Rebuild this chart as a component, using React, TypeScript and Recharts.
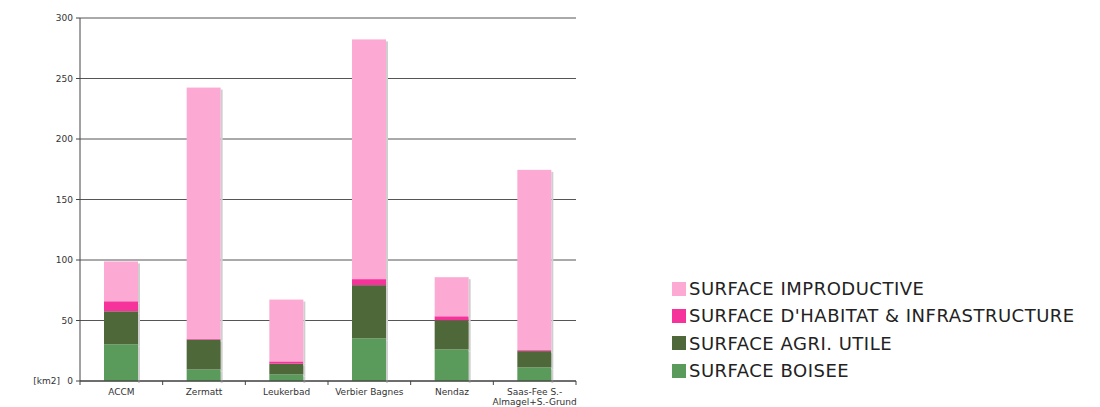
import React from "react";
import { BarChart, Bar, XAxis, YAxis, CartesianGrid, Legend } from "recharts";

const categories = ["ACCM", "Zermatt", "Leukerbad", "Verbier Bagnes", "Nendaz", "Saas-Fee S.-\nAlmagel+S.-Grund"];
const boisee = [30.3, 9.5, 5.4, 35.2, 26.1, 11.2];
const agri = [27.3, 24.7, 8.9, 44.0, 24.1, 13.5];
const habitat = [8.3, 0.8, 1.9, 5.0, 3.3, 0.8];
const improductive = [32.9, 207.5, 51.1, 198.1, 32.3, 149.0];
const yTicks = [0, 50, 100, 150, 200, 250, 300];

const series = [
  { key: "boisee", name: "SURFACE BOISEE", color: "#5A9A5A", values: boisee },
  { key: "agri", name: "SURFACE AGRI. UTILE", color: "#4F6839", values: agri },
  { key: "habitat", name: "SURFACE D'HABITAT & INFRASTRUCTURE", color: "#F6339A", values: habitat },
  { key: "improductive", name: "SURFACE IMPRODUCTIVE", color: "#FCAAD3", values: improductive },
];

const data = categories.map((c, i) => {
  const row: any = { name: c };
  series.forEach((s) => (row[s.key] = s.values[i]));
  return row;
});

const W = 1100;
const H = 407;
const PLOT_LEFT = 80;
const PLOT_RIGHT = 576;
const BAND = (PLOT_RIGHT - PLOT_LEFT) / categories.length;
const FONT = "'DejaVu Sans', sans-serif";

const ShadowBar = (props: any) => {
  const { x, y, width, height, fill } = props;
  if (!height || height <= 0) return null;
  return (
    <g>
      <rect x={x + width} y={y + 2} width={2} height={height} fill="#cfcfcf" />
      <rect x={x} y={y} width={width} height={height} fill={fill} />
    </g>
  );
};

const XTick = (props: any) => {
  const { x, y, payload, index } = props;
  const lines = String(payload.value).split("\n");
  return (
    <g>
      <line x1={x - BAND / 2} y1={y - 8} x2={x - BAND / 2} y2={y - 4} stroke="#444" />
      {index === categories.length - 1 && (
        <line x1={x + BAND / 2} y1={y - 8} x2={x + BAND / 2} y2={y - 4} stroke="#444" />
      )}
      <text x={x} y={y + 6} textAnchor="middle" fontSize={9} fill="#333" fontFamily={FONT}>
        {lines.map((l, i) => (
          <tspan key={i} x={x} dy={i === 0 ? 0 : 10}>
            {l}
          </tspan>
        ))}
      </text>
    </g>
  );
};

const YTick = (props: any) => {
  const { x, y, payload } = props;
  return (
    <g>
      <text x={x - 1} y={y + 3} textAnchor="end" fontSize={9} fill="#333" fontFamily={FONT}>
        {payload.value}
      </text>
      {payload.value === 0 && (
        <text x={x - 14} y={y + 3} textAnchor="end" fontSize={9} fill="#333" fontFamily={FONT}>
          [km2]
        </text>
      )}
    </g>
  );
};

const LegendContent = () => (
  <div style={{ fontFamily: FONT }}>
    {[...series].reverse().map((s) => (
      <div key={s.key} style={{ display: "flex", alignItems: "center", height: 27.3 }}>
        <div style={{ width: 14, height: 14, background: s.color, marginRight: 3 }} />
        <span style={{ fontSize: 18, color: "#222", letterSpacing: 0.5 }}>{s.name}</span>
      </div>
    ))}
  </div>
);

export default function App() {
  return (
    <div style={{ position: "absolute", left: 0, top: 0, width: W, height: H, background: "#fff" }}>
      <BarChart
        width={W}
        height={H}
        data={data}
        margin={{ top: 18, right: W - PLOT_RIGHT, left: 0, bottom: 0 }}
        barSize={34}
      >
        <CartesianGrid vertical={false} stroke="#555" strokeWidth={1} />
        <XAxis
          dataKey="name"
          height={26}
          tick={<XTick />}
          tickLine={false}
          axisLine={{ stroke: "#333" }}
          interval={0}
        />
        <YAxis
          width={PLOT_LEFT}
          domain={[0, 300]}
          ticks={yTicks}
          tick={<YTick />}
          tickSize={4}
          tickLine={{ stroke: "#444" }}
          axisLine={{ stroke: "#444" }}
        />
        <YAxis
          yAxisId="r"
          orientation="right"
          width={0}
          domain={[0, 300]}
          tick={false}
          tickLine={false}
          axisLine={{ stroke: "#c8c8c8" }}
        />
        {series.map((s) => (
          <Bar
            key={s.key}
            dataKey={s.key}
            name={s.name}
            stackId="a"
            fill={s.color}
            shape={<ShadowBar />}
            isAnimationActive={false}
          />
        ))}
        <Legend
          layout="vertical"
          align="center"
          verticalAlign="middle"
          content={<LegendContent />}
          wrapperStyle={{ left: 672, top: 275, width: 428 }}
        />
      </BarChart>
    </div>
  );
}
